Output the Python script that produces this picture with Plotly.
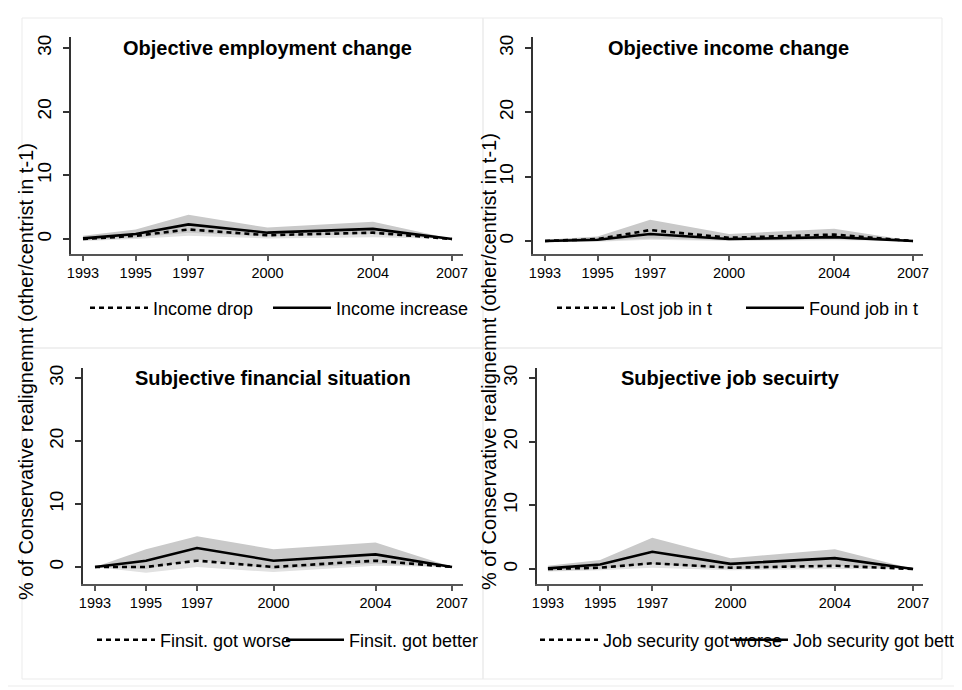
import plotly.graph_objects as go

# page body has an 8px margin; the figure is sized so that it ends at the window edge
OFF = 8
W, H = 962 - OFF, 690 - OFF
FONT = "Arial, Liberation Sans, sans-serif"


def px(x):
    return (x - OFF) / W


def py(y):
    return 1 - (y - OFF) / H


years = [1993, 1995, 1997, 2000, 2004, 2007]
year_ticks = [1993, 1995, 1997, 2000, 2004, 2007]
y_ticks = [0, 10, 20, 30]

titles = ["Objective employment change", "Objective income change",
          "Subjective financial situation", "Subjective job secuirty"]
dash_names = ["Income drop", "Lost job in t", "Finsit. got worse", "Job security got worse"]
solid_names = ["Income increase", "Found job in t", "Finsit. got better", "Job security got better"]

# panel 1
p1_dash = [0.0, 0.5, 1.5, 0.6, 1.0, 0.0]
p1_dash_lo = [-0.3, 0.0, 0.5, 0.1, 0.3, 0.0]
p1_dash_hi = [0.3, 1.0, 2.7, 1.2, 1.8, 0.0]
p1_solid = [0.1, 0.8, 2.3, 1.0, 1.6, 0.0]
p1_solid_lo = [-0.2, 0.2, 1.0, 0.4, 0.8, 0.0]
p1_solid_hi = [0.5, 1.5, 3.8, 1.8, 2.7, 0.0]
# panel 2
p2_dash = [0.0, 0.3, 1.7, 0.5, 1.0, 0.0]
p2_dash_lo = [-0.2, 0.0, 0.4, 0.1, 0.3, 0.0]
p2_dash_hi = [0.2, 0.7, 3.3, 1.1, 1.9, 0.0]
p2_solid = [0.0, 0.2, 1.1, 0.3, 0.6, 0.0]
p2_solid_lo = [-0.2, -0.1, 0.2, 0.0, 0.1, 0.0]
p2_solid_hi = [0.2, 0.5, 2.0, 0.7, 1.2, 0.0]
# panel 3
p3_dash = [0.0, 0.0, 1.0, 0.0, 1.0, 0.0]
p3_dash_lo = [0.0, -0.9, 0.0, -0.8, 0.2, 0.0]
p3_dash_hi = [0.0, 0.9, 2.0, 0.8, 1.9, 0.0]
p3_solid = [0.0, 1.0, 3.0, 1.0, 2.0, 0.0]
p3_solid_lo = [0.0, -0.3, 1.2, -0.3, 0.5, 0.0]
p3_solid_hi = [0.0, 2.8, 4.9, 2.8, 3.9, 0.0]
# panel 4
p4_dash = [0.0, 0.2, 0.9, 0.2, 0.5, 0.0]
p4_dash_lo = [-0.4, -0.2, 0.2, -0.2, 0.0, 0.0]
p4_dash_hi = [0.4, 0.6, 1.8, 0.7, 1.2, 0.0]
p4_solid = [0.1, 0.7, 2.7, 0.8, 1.7, 0.0]
p4_solid_lo = [-0.3, 0.0, 0.8, 0.0, 0.5, 0.0]
p4_solid_hi = [0.5, 1.4, 4.9, 1.7, 3.1, 0.0]

panels = [
    (p1_dash, p1_dash_lo, p1_dash_hi, p1_solid, p1_solid_lo, p1_solid_hi),
    (p2_dash, p2_dash_lo, p2_dash_hi, p2_solid, p2_solid_lo, p2_solid_hi),
    (p3_dash, p3_dash_lo, p3_dash_hi, p3_solid, p3_solid_lo, p3_solid_hi),
    (p4_dash, p4_dash_lo, p4_dash_hi, p4_solid, p4_solid_lo, p4_solid_hi),
]

# window-pixel geometry of each plot area and its axis ranges
geo = [
    dict(px=(71, 463), py=(37, 254), xr=[1992.545, 2007.417], yr=[-2.35, 31.73]),
    dict(px=(533, 923), py=(37, 254), xr=[1992.544, 2007.38], yr=[-2.02, 31.71]),
    dict(px=(83, 463), py=(368, 584), xr=[1992.53, 2007.43], yr=[-2.7, 31.59]),
    dict(px=(537, 923), py=(368, 584), xr=[1992.58, 2007.38], yr=[-2.36, 31.57]),
]
title_y = [48, 48, 378, 378]
# legend text start (x) of the dashed and the solid entry, and legend row y
legend_text_x = [(153, 336), (620, 809), (160, 349), (603, 793)]
legend_y = [308, 308, 640, 640]
ITEMW = 58
TEXT_OFF = ITEMW + 10

DARK = "#c9c9c9"
LIGHT = "#e1e1e1"

fig = go.Figure()
layout = {}
for i, (d, dlo, dhi, s, slo, shi) in enumerate(panels):
    k = "" if i == 0 else str(i + 1)
    xa, ya = "x" + k, "y" + k
    lg_d = "legend" if i == 0 else "legend" + str(2 * i + 1)
    lg_s = "legend" + str(2 * i + 2)
    dash_higher = sum(d) > sum(s)
    bands = [(slo, shi), (dlo, dhi)] if dash_higher else [(dlo, dhi), (slo, shi)]
    for bi, (lo, hi) in enumerate(bands):
        col = LIGHT if bi == 0 else DARK
        fig.add_trace(go.Scatter(x=years, y=lo, mode="lines", line=dict(width=0),
                                 xaxis=xa, yaxis=ya, showlegend=False, hoverinfo="skip"))
        fig.add_trace(go.Scatter(x=years, y=hi, mode="lines", line=dict(width=0),
                                 fill="tonexty", fillcolor=col,
                                 xaxis=xa, yaxis=ya, showlegend=False, hoverinfo="skip"))
    fig.add_trace(go.Scatter(x=years, y=d, mode="lines", name=dash_names[i],
                             line=dict(color="black", width=2.6, dash="5px,4px"),
                             xaxis=xa, yaxis=ya, legend=lg_d))
    fig.add_trace(go.Scatter(x=years, y=s, mode="lines", name=solid_names[i],
                             line=dict(color="black", width=2.6),
                             xaxis=xa, yaxis=ya, legend=lg_s))

    g = geo[i]
    x0, x1 = g["px"]
    yt, yb = g["py"]
    layout["xaxis" + k] = dict(
        domain=[px(x0), px(x1)], range=g["xr"], anchor=ya,
        tickmode="array", tickvals=year_ticks, ticktext=[str(t) for t in year_ticks],
        showgrid=False, zeroline=False, showline=True, linecolor="#555555", linewidth=1.5,
        ticks="outside", ticklen=5, tickwidth=1.5, tickcolor="#555555",
        tickfont=dict(family=FONT, size=14.5, color="black"), fixedrange=True)
    layout["yaxis" + k] = dict(
        domain=[py(yb), py(yt)], range=g["yr"], anchor=xa,
        tickmode="array", tickvals=y_ticks, ticktext=[str(t) for t in y_ticks],
        tickangle=-90, ticklabelstandoff=5,
        showgrid=False, zeroline=False, showline=True, linecolor="#333333", linewidth=1.5,
        ticks="outside", ticklen=6, tickwidth=1.5, tickcolor="#333333",
        tickfont=dict(family=FONT, size=19, color="black"), fixedrange=True)
    for lg, tx in ((lg_d, legend_text_x[i][0]), (lg_s, legend_text_x[i][1])):
        layout[lg] = dict(
            orientation="h", x=px(tx - TEXT_OFF), y=py(legend_y[i]),
            xanchor="left", yanchor="middle",
            font=dict(family=FONT, size=18, color="black"), bgcolor="rgba(0,0,0,0)",
            itemwidth=ITEMW, itemclick=False, itemdoubleclick=False)

annotations = []
for i in range(4):
    x0, x1 = geo[i]["px"]
    annotations.append(dict(
        text="<b>" + titles[i] + "</b>", x=px((x0 + x1) / 2), y=py(title_y[i]),
        xref="paper", yref="paper", xanchor="center", yanchor="middle", showarrow=False,
        font=dict(family=FONT, size=20, color="black")))

ytitle = "% of Conservative realignemnt (other/centrist in t-1)"
for (tx, ty) in [(26, 372), (489, 361)]:
    annotations.append(dict(
        text=ytitle, x=px(tx), y=py(ty), xref="paper", yref="paper",
        xanchor="center", yanchor="middle", textangle=-90, showarrow=False,
        font=dict(family=FONT, size=20, color="black")))

frame_col = "#ebebeb"
shapes = [dict(type="rect", xref="paper", yref="paper",
               x0=px(5), x1=px(957), y0=py(686), y1=py(4),
               line=dict(color=frame_col, width=1), layer="below")]
for (a, b, c, e) in [(22, 483, 18, 348), (483, 942, 18, 348),
                     (22, 483, 348, 679), (483, 942, 348, 679)]:
    shapes.append(dict(type="rect", xref="paper", yref="paper",
                       x0=px(a), x1=px(b), y0=py(e), y1=py(c),
                       line=dict(color=frame_col, width=1), layer="below"))

fig.update_layout(
    width=W, height=H, margin=dict(l=0, r=0, t=0, b=0, autoexpand=False),
    paper_bgcolor="white", plot_bgcolor="white",
    font=dict(family=FONT, color="black"),
    annotations=annotations, shapes=shapes, **layout)

fig.write_html("out.html")
